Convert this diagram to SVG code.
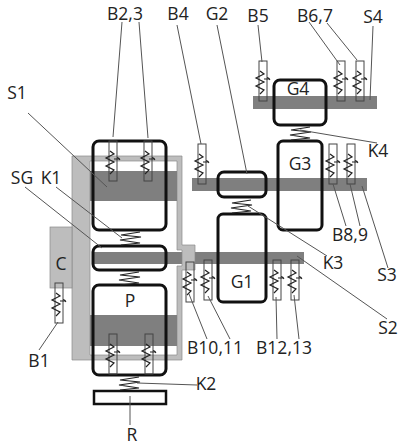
<svg xmlns="http://www.w3.org/2000/svg" width="399" height="445" viewBox="0 0 399 445">
<style>
.shaft{fill:#7f7f7f}
.box{fill:none;stroke:#111;stroke-width:3}
.frame{fill:#bdbdbd;stroke:#8a8a8a;stroke-width:.7;fill-rule:evenodd}
.lead{stroke:#555;stroke-width:1;fill:none}
.sp{stroke:#222;stroke-width:1.200;fill:none}
.bw{fill:none;stroke:#444;stroke-width:1}
text{font-family:"Open Sans","Liberation Sans",sans-serif;font-size:17.5px;fill:#222;text-anchor:middle}
</style>
<defs>
<g id="bearing"><rect class="bw" x="0" y="0" width="8" height="40"/><polyline class="sp" points="1,10 5,13 -3,17 5,21 -3,25 5,29 1,33"/><path class="sp" stroke-width=".8" d="M5,18H11M8,16.500Q10,16.500 11,19"/></g>
<polyline id="spring" class="sp" points="-9,13 10,11 -10,8 11,5 -9,3 10,0"/>
</defs>
<rect width="399" height="445" fill="#fff"/>
<g id="S2"><rect class="shaft" x="93" y="252" width="211" height="12"/></g>
<g id="frame"><path class="frame" d="M72,156H182V245H195V270H182V360H72ZM90,161V355H177V266H182V250H177V161Z"/></g>
<g id="S1"><rect class="shaft" x="90" y="171" width="87" height="30"/></g>
<g id="S1b"><rect class="shaft" x="90" y="315" width="87" height="31"/></g>
<g id="S3"><rect class="shaft" x="192" y="178" width="175" height="13"/></g>
<g id="S4"><rect class="shaft" x="253" y="96" width="124" height="13"/></g>
<g id="C"><rect x="50" y="227" width="22" height="61" fill="#bdbdbd" stroke="#8a8a8a" stroke-width=".7"/></g>
<g id="upper-planet"><rect class="box" x="93" y="141" width="73" height="89" rx="6"/></g>
<g id="SG"><rect class="box" x="93" y="246" width="73" height="24" rx="6"/></g>
<g id="P"><rect class="box" x="93" y="285" width="73" height="90" rx="6"/><text x="130" y="307">P</text></g>
<g id="R"><rect x="94" y="391" width="72" height="13" fill="#fff" stroke="#111" stroke-width="2.500"/></g>
<g id="G1"><rect class="box" x="218" y="214" width="48" height="88" rx="5"/><text x="242" y="288">G1</text></g>
<g id="G2"><rect class="box" x="218" y="172" width="48" height="25" rx="6"/></g>
<g id="G3"><rect class="box" x="278" y="141" width="44" height="89" rx="5"/><text x="300" y="170">G3</text></g>
<g id="G4"><rect class="box" x="274" y="80" width="52" height="45" rx="6"/><text x="298" y="95">G4</text></g>
<g id="B1"><use href="#bearing" x="55" y="283"/></g>
<g id="B2"><use href="#bearing" x="109" y="141"/></g>
<g id="B3"><use href="#bearing" x="144" y="141"/></g>
<g id="B2b"><use href="#bearing" x="109" y="334"/></g>
<g id="B3b"><use href="#bearing" x="145" y="334"/></g>
<g id="B4"><use href="#bearing" x="198" y="144"/></g>
<g id="B5"><use href="#bearing" x="259" y="61"/></g>
<g id="B6"><use href="#bearing" x="337" y="61"/></g>
<g id="B7"><use href="#bearing" x="356" y="61"/></g>
<g id="B8"><use href="#bearing" x="329" y="144"/></g>
<g id="B9"><use href="#bearing" x="347" y="144"/></g>
<g id="B10"><use href="#bearing" x="186" y="262"/></g>
<g id="B11"><use href="#bearing" x="204" y="260"/></g>
<g id="B12"><use href="#bearing" x="273" y="260"/></g>
<g id="B13"><use href="#bearing" x="291" y="260"/></g>
<g id="connectors">
<use href="#spring" x="130" y="232"/>
<use href="#spring" x="129" y="272"/>
<use href="#spring" x="129" y="377"/>
<use href="#spring" x="241" y="200"/>
<use href="#spring" x="300" y="127"/>
<path class="lead" d="M28,113L107,187M25,187L102,248M56,187L122,238M39,350L58,322M197,385L137,383M130,396V425M122,22L113,137M139,22L148,138M177,25L201,144M217,25L247,174M258,25L262,62M309,22L340,65M327,23L357,60M373,26L370,100M300,130L377,143M333,184L346,226M350,184L360,226M362,186L388,268M248,206L327,256M297,256L387,319M189,294L207,339M208,296L230,339M276,297L277,339M294,295L299,339"/>
</g>
<g id="labels">
<text x="125" y="20">B2,3</text><text x="178" y="20">B4</text><text x="217" y="20">G2</text><text x="258" y="22">B5</text><text x="315" y="22">B6,7</text><text x="373" y="23">S4</text>
<text x="17" y="99">S1</text><text x="22" y="184">SG</text><text x="51" y="184">K1</text><text x="61" y="270">C</text>
<text x="378" y="157">K4</text><text x="350" y="241">B8,9</text><text x="333" y="269">K3</text><text x="387" y="281">S3</text><text x="388" y="334">S2</text>
<text x="215" y="354">B10,11</text><text x="284" y="354">B12,13</text><text x="39" y="367">B1</text><text x="206" y="390">K2</text><text x="132" y="441">R</text>
</g>
</svg>
